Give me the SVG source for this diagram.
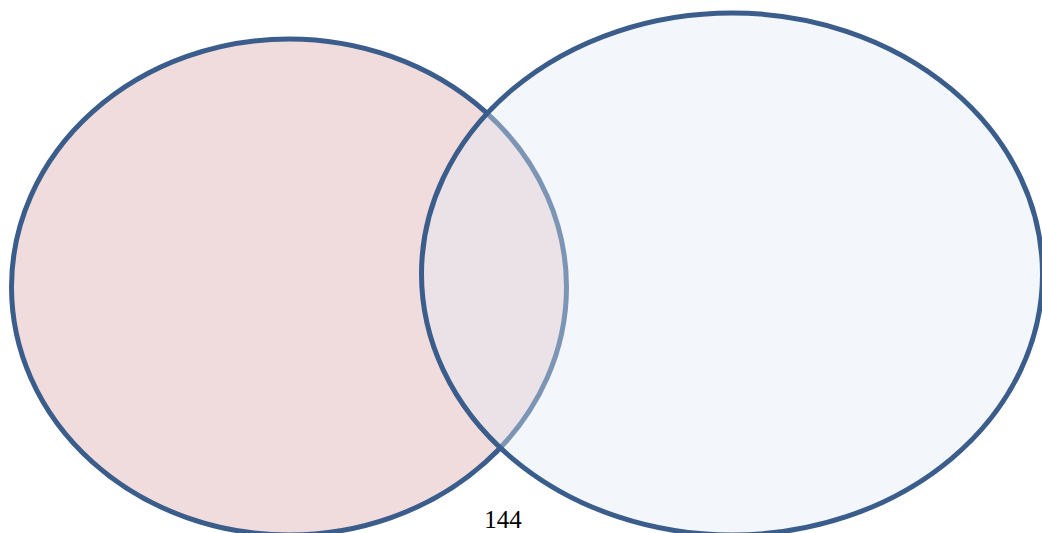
<svg xmlns="http://www.w3.org/2000/svg" width="1042" height="533" viewBox="0 0 1042 533">
<style>
.set{stroke:#3a5d8b;stroke-width:5}
.lbl{font-family:"Liberation Serif","Times New Roman",serif;font-size:25px;fill:#000;text-anchor:middle}
</style>
<rect width="1042" height="533" fill="#fff"/>
<g id="setA"><ellipse class="set" cx="289" cy="287" rx="277.5" ry="248" fill="#f0dcdc"/></g>
<g id="setB"><ellipse class="set" cx="732" cy="274" rx="310.5" ry="261" fill="#e0ecf6" fill-opacity="0.4"/></g>
<g id="connectors"/>
<g id="label"><text class="lbl" x="503" y="528">144</text></g>
</svg>
